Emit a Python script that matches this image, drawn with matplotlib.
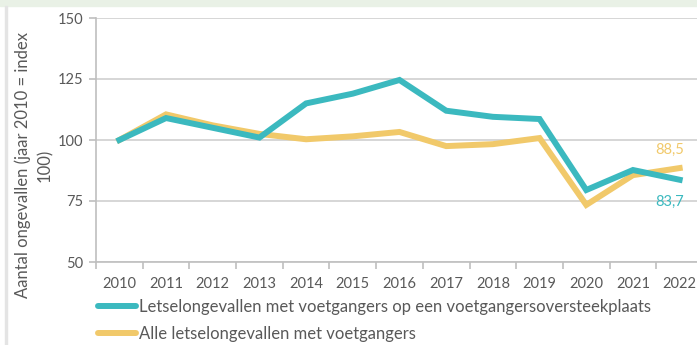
import matplotlib.pyplot as plt
from matplotlib.lines import Line2D
from matplotlib.patches import Rectangle

# Index 2010 = 100
jaren = [2010, 2011, 2012, 2013, 2014, 2015, 2016, 2017, 2018, 2019, 2020, 2021, 2022]
oversteekplaats = [100, 109, 105, 101, 115, 119, 124.6, 112, 109.5, 108.6, 79.5, 87.7, 83.7]
alle_voetgangers = [100, 110.5, 106, 102.5, 100.3, 101.5, 103.3, 97.5, 98.3, 100.8, 73.4, 85.6, 88.5]
yticks = [50, 75, 100, 125, 150]

teal = '#3BB9BF'
geel = '#F1C96A'
grijs = '#595959'

plt.rcParams['font.family'] = ['Lato', 'DejaVu Sans']

fig = plt.figure(figsize=(6.97, 3.45), dpi=100)
# lichte balk bovenaan en rand links
fig.patches.append(Rectangle((0, 1 - 6 / 345), 1, 6 / 345, transform=fig.transFigure,
                             color='#E9F1E6', zorder=0))
fig.patches.append(Rectangle((5 / 697, 0), 1.5 / 697, 1 - 6 / 345, transform=fig.transFigure,
                             color='#E4E4E4', zorder=0))

ax = fig.add_axes([96 / 697, 1 - 262 / 345, (703 - 96) / 697, 244 / 345])
x = list(range(len(jaren)))
ax.plot(x, oversteekplaats, color=teal, lw=4.3, solid_joinstyle='miter', zorder=3)
ax.plot(x, alle_voetgangers, color=geel, lw=4.3, solid_joinstyle='miter', zorder=2)

ax.set_xlim(-0.5, len(jaren) - 0.5)
ax.set_ylim(50, 150)
ax.set_yticks(yticks)
ax.set_yticklabels([str(t) for t in yticks], color=grijs, fontsize=10.5)
ax.set_xticks(x)
ax.set_xticklabels([str(j) for j in jaren], color=grijs, fontsize=10.5)
ax.set_xticks([i - 0.5 for i in range(len(jaren) + 1)], minor=True)
ax.tick_params(axis='x', which='major', length=0, pad=11)
ax.tick_params(axis='x', which='minor', length=5, color='#BFBFBF', width=1.2)
ax.tick_params(axis='y', length=5, color='#BFBFBF', width=1.2, pad=4)
ax.grid(axis='y', color='#D0D0D0', lw=1.2)
ax.set_axisbelow(True)
for s in ['top', 'right']:
    ax.spines[s].set_visible(False)
for s in ['left', 'bottom']:
    ax.spines[s].set_color('#BFBFBF')
    ax.spines[s].set_linewidth(1.2)

fig.text(33.5 / 697, 1 - 165 / 345, 'Aantal ongevallen (jaar 2010 = index\n100)',
         rotation=90, ha='center', va='center', multialignment='center',
         color=grijs, fontsize=12, linespacing=1.45)

# waardelabels laatste jaar
ax.annotate(f'{alle_voetgangers[-1]:.1f}'.replace('.', ','), (x[-1], alle_voetgangers[-1]),
            xytext=(-7, 13), textcoords='offset points', ha='center', va='center',
            color=geel, fontsize=10.5)
ax.annotate(f'{oversteekplaats[-1]:.1f}'.replace('.', ','), (x[-1], oversteekplaats[-1]),
            xytext=(-7, -16), textcoords='offset points', ha='center', va='center',
            color=teal, fontsize=10.5)

handles = [Line2D([], [], color=teal, lw=4.3, solid_capstyle='round'),
           Line2D([], [], color=geel, lw=4.3, solid_capstyle='round')]
fig.legend(handles,
           ['Letselongevallen met voetgangers op een voetgangersoversteekplaats',
            'Alle letselongevallen met voetgangers'],
           loc='upper left', bbox_to_anchor=(98 / 697, 1 - 299 / 345), frameon=False,
           fontsize=12, labelcolor=grijs, handlelength=2.3, handletextpad=0.15,
           labelspacing=0.65, borderaxespad=0, borderpad=0)

fig.savefig('out.png', dpi=100)
